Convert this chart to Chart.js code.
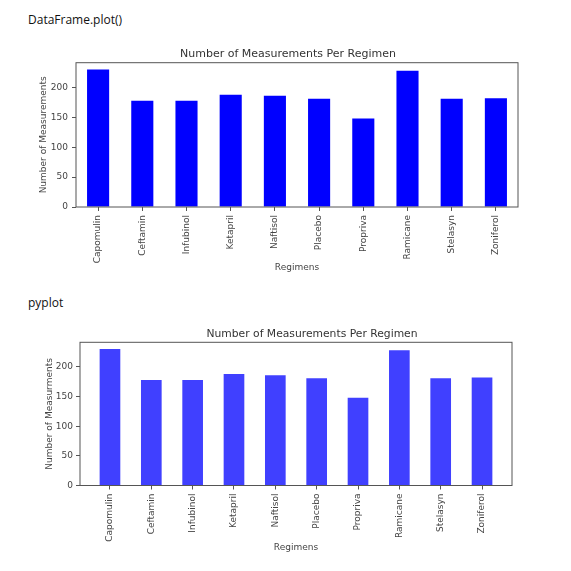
<!DOCTYPE html>
<html>
<head>
<meta charset="utf-8">
<script src="https://cdn.jsdelivr.net/npm/chart.js@4.4.1/dist/chart.umd.min.js"></script>
<style>
  body { margin: 0; background: #fff; overflow: hidden; width: 571px; height: 571px; position: relative; }
  .caption { position: absolute; left: 28px; font-family: "Open Sans", sans-serif; font-size: 12px; color: #111; }
  canvas { position: absolute; }
</style>
</head>
<body>
<div class="caption" style="top:11px">DataFrame.plot()</div>
<canvas id="dfChart" width="516" height="240" style="left:30px;top:40px"></canvas>
<div class="caption" style="top:294px">pyplot</div>
<canvas id="pltChart" width="564" height="240" style="left:30px;top:320px"></canvas>
<script>
var regimens = ['Capomulin', 'Ceftamin', 'Infubinol', 'Ketapril', 'Naftisol', 'Placebo', 'Propriva', 'Ramicane', 'Stelasyn', 'Zoniferol'];
var measurements = [230, 178, 178, 188, 186, 181, 148, 228, 181, 182];
var yTicks = [0, 50, 100, 150, 200];

Chart.defaults.font.family = 'DejaVu Sans';
Chart.defaults.color = '#444';

// matplotlib style box round the axes
var frame = {
  id: 'frame',
  afterDatasetsDraw: function(chart) {
    var a = chart.chartArea, ctx = chart.ctx;
    ctx.save();
    ctx.strokeStyle = '#555';
    ctx.lineWidth = 1;
    ctx.strokeRect(a.left, a.top, a.right - a.left, a.bottom - a.top);
    ctx.restore();
  }
};

function drawBars(id, s) {
  var points = regimens.map(function(r, i) { return {x: i, y: measurements[i]}; });
  return new Chart(document.getElementById(id), {
    type: 'bar',
    data: {
      datasets: [{
        data: points,
        backgroundColor: s.color,
        barPercentage: 0.5,
        categoryPercentage: 1
      }]
    },
    plugins: [frame],
    options: {
      responsive: false,
      animation: false,
      layout: { padding: 0 },
      plugins: {
        legend: { display: false },
        tooltip: { enabled: false },
        title: {
          display: true,
          text: 'Number of Measurements Per Regimen',
          color: '#333',
          font: { size: s.titleSize, weight: 'normal' },
          padding: { top: s.titleTop, bottom: s.titleBottom }
        }
      },
      scales: {
        x: {
          type: 'linear',
          min: s.xMin,
          max: s.xMax,
          offset: false,
          grid: { display: true, offset: false, drawOnChartArea: false, tickLength: 4, color: '#555' },
          border: { display: false },
          afterBuildTicks: function(scale) {
            scale.ticks = regimens.map(function(r, i) { return {value: i}; });
          },
          ticks: {
            autoSkip: false,
            minRotation: 90,
            maxRotation: 90,
            padding: 4,
            font: { size: 9 },
            callback: function(v) { return regimens[v]; }
          },
          title: {
            display: true,
            text: 'Regimens',
            font: { size: 9 },
            padding: { top: 0, bottom: s.xTitleBottom }
          },
          afterFit: function(scale) { scale.height = s.xHeight; }
        },
        y: {
          min: 0,
          max: 241.5,
          grid: { display: true, drawOnChartArea: false, tickLength: 4, color: '#555' },
          border: { display: false },
          afterBuildTicks: function(scale) {
            scale.ticks = yTicks.map(function(v) { return {value: v}; });
          },
          ticks: { padding: s.yTickPad, font: { size: 9 } },
          title: {
            display: true,
            text: s.yTitle,
            font: { size: 9 },
            padding: { top: s.yTitleTop, bottom: 0 }
          },
          afterFit: function(scale) { scale.width = s.yWidth; }
        },
        // empty axis on the right, only to shift the title like the reference
        yR: {
          position: 'right',
          ticks: { display: false },
          grid: { display: false, drawTicks: false },
          border: { display: false },
          afterFit: function(scale) { scale.width = s.rightWidth; }
        }
      }
    }
  });
}

drawBars('dfChart', {
  color: '#0000ff',
  xMin: -0.5, xMax: 9.5,
  titleSize: 11, titleTop: 7.9, titleBottom: 1.6,
  xHeight: 73, xTitleBottom: 6.6,
  yWidth: 46, yTickPad: 4, yTitleTop: 8.6, rightWidth: 28,
  yTitle: 'Number of Measurements'
});

drawBars('pltChart', {
  color: 'rgba(0,0,255,0.75)',
  xMin: -0.725, xMax: 9.725,
  titleSize: 10.75, titleTop: 7.4, titleBottom: 2.0,
  xHeight: 74.5, xTitleBottom: 7.2,
  yWidth: 50, yTickPad: 3, yTitleTop: 14.6, rightWidth: 82,
  yTitle: 'Number of Measurments'
});
</script>
</body>
</html>
